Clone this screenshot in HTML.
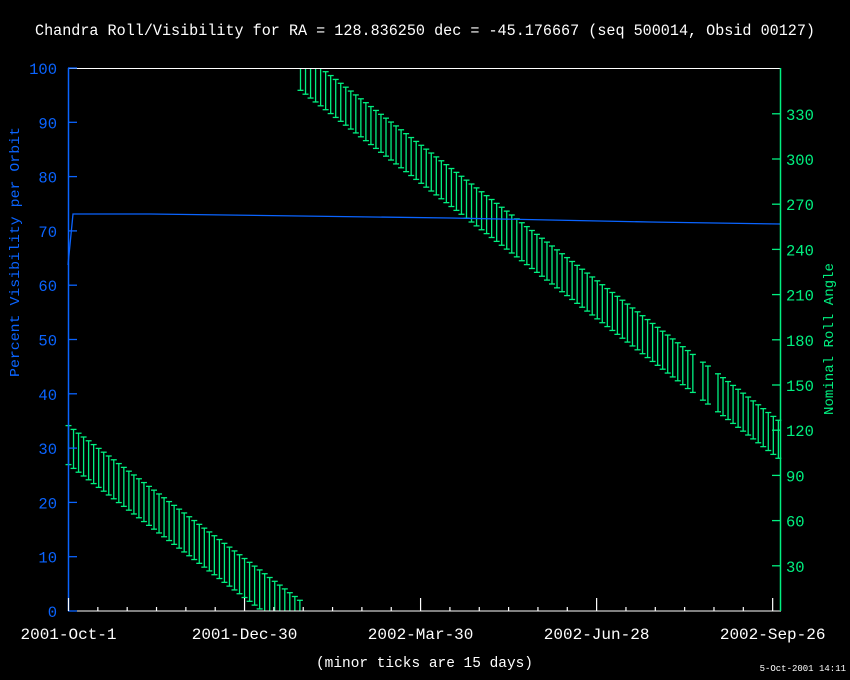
<!DOCTYPE html>
<html><head><meta charset="utf-8"><style>
html,body{margin:0;padding:0;background:#000;}
svg{display:block;}
text{font-family:"Liberation Mono","DejaVu Sans Mono",monospace;}
</style></head><body>
<svg id="s" width="850" height="680" xmlns="http://www.w3.org/2000/svg">
<rect width="850" height="680" fill="#000"/>
<text x="35" y="35" fill="#fff" font-size="15.5" textLength="780" lengthAdjust="spacingAndGlyphs">Chandra Roll/Visibility for RA = 128.836250 dec = -45.176667 (seq 500014, Obsid 00127)</text>
<g id="bars" stroke="#00f080" stroke-width="1.3" fill="none"></g>
<polyline points="68,265 73,214 150,214 300,216 450,218 550,220 650,222 780,224" stroke="#0a64ff" stroke-width="1.3" fill="none"/>
<rect x="68.5" y="68.5" width="712" height="542.5" fill="none" stroke="#fff" stroke-width="1"/>
<line x1="68.5" y1="68" x2="68.5" y2="611" stroke="#0a64ff" stroke-width="1.5"/>
<line x1="780.5" y1="68" x2="780.5" y2="611" stroke="#00f080" stroke-width="1.5"/>
<g id="ax"></g>
<text transform="translate(19,252) rotate(-90)" fill="#0a64ff" font-size="14" text-anchor="middle" textLength="250" lengthAdjust="spacingAndGlyphs">Percent Visibility per Orbit</text>
<text transform="translate(833,339) rotate(-90)" fill="#00f080" font-size="14" text-anchor="middle" textLength="152" lengthAdjust="spacingAndGlyphs">Nominal Roll Angle</text>
<text x="316" y="667" fill="#fff" font-size="14.5" textLength="217" lengthAdjust="spacingAndGlyphs">(minor ticks are 15 days)</text>
<text x="846" y="671" fill="#fff" font-size="9" text-anchor="end">5-Oct-2001 14:11</text>
</svg>
<script>
var NS="http://www.w3.org/2000/svg";
function el(p,t,a,txt){var e=document.createElementNS(NS,t);for(var k in a)e.setAttribute(k,a[k]);if(txt)e.textContent=txt;p.appendChild(e);return e;}
var b=document.getElementById("bars"),ax=document.getElementById("ax");
function bar(x,top,len){var bot=top+len;var t=Math.max(top,68),bb=Math.min(bot,611);if(bb<=t)return;
el(b,"line",{x1:x,y1:t,x2:x,y2:bb});
if(top>=68)el(b,"line",{x1:x-3,y1:top,x2:x+3,y2:top});
if(bot<=611)el(b,"line",{x1:x-3,y1:bot,x2:x+3,y2:bot});}
for(var x=68.5;x<300;x+=5.03){bar(x,429+0.755*(x-73),39);}
for(var x=300.5;x<781;x+=5.03){if(Math.abs(x-698)<2.6||Math.abs(x-714)<2.6)continue;bar(x,420-0.77*(778-x),38);}
for(var v=0;v<=100;v+=10){var y=611-v*5.43;el(ax,"line",{x1:68,y1:y,x2:77,y2:y,stroke:"#0a64ff","stroke-width":1.3});
el(ax,"text",{x:57,y:y+6,fill:"#0a64ff","font-size":15.5,"text-anchor":"end"},String(v));}
for(var v=30;v<=330;v+=30){var y=611-v*1.5067;el(ax,"line",{x1:772,y1:y,x2:780,y2:y,stroke:"#00f080","stroke-width":1.3});
el(ax,"text",{x:786,y:y+6,fill:"#00f080","font-size":15.5},String(v));}
var labs=["2001-Oct-1","2001-Dec-30","2002-Mar-30","2002-Jun-28","2002-Sep-26"];
for(var d=0;d<=364;d+=15){var x=68.5+d*1.956;var maj=(d%90==0);
el(ax,"line",{x1:x,y1:611,x2:x,y2:maj?598:607,stroke:"#fff","stroke-width":1.2});
if(maj)el(ax,"text",{x:x,y:639,fill:"#fff","font-size":16,"text-anchor":"middle"},labs[d/90]);}
</script>
</body></html>
